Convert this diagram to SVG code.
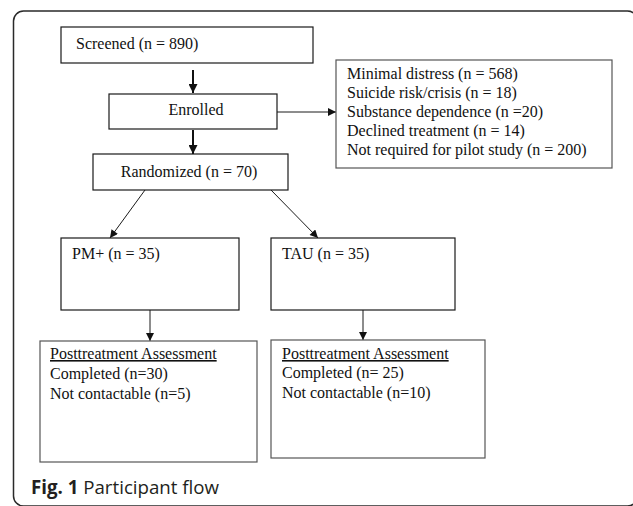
<svg xmlns="http://www.w3.org/2000/svg" width="633" height="506" viewBox="0 0 633 506">
<style>
.box{fill:#fff;stroke:#1a1a1a;stroke-width:1.2}
.gbox{fill:#fff;stroke:#555;stroke-width:1.2}
.t{font-family:"Liberation Serif","Times New Roman",serif;font-size:16px;fill:#111}
.c{text-anchor:middle}
.ln{stroke:#1a1a1a;stroke-width:1;fill:none}
.thk{stroke:#111;stroke-width:2;fill:none}
.cap{font-family:"Open Sans","Noto Sans",sans-serif;font-size:18.7px;fill:#231f20}
</style>
<defs>
<marker id="ah" viewBox="0 0 10 10" refX="10" refY="5" markerWidth="9" markerHeight="8" markerUnits="userSpaceOnUse" orient="auto">
<path d="M0,0 L10,5 L0,10 z" fill="#111"/>
</marker>
<marker id="ahs" viewBox="0 0 10 10" refX="10" refY="5" markerWidth="9" markerHeight="9" markerUnits="userSpaceOnUse" orient="auto">
<path d="M0,0 L10,5 L0,10 z" fill="#111"/>
</marker>
</defs>
<rect x="0" y="0" width="633" height="506" fill="#fff"/>
<rect id="frame" x="13.5" y="11" width="624" height="495" rx="10" ry="10" fill="none" stroke="#2a2a2a" stroke-width="1.5"/>
<g id="connectors">
<line class="thk" x1="193" y1="70" x2="193" y2="93" marker-end="url(#ahs)"/>
<line class="thk" x1="193" y1="130" x2="193" y2="154" marker-end="url(#ahs)"/>
<line class="ln" x1="277" y1="112" x2="336" y2="112" stroke="#666" marker-end="url(#ah)"/>
<line class="ln" x1="145" y1="190" x2="110" y2="238" marker-end="url(#ah)"/>
<line class="ln" x1="271" y1="190" x2="318" y2="238" marker-end="url(#ah)"/>
<line class="ln" x1="150" y1="310" x2="150" y2="341" marker-end="url(#ah)"/>
<line class="ln" x1="363" y1="310" x2="363" y2="340" stroke="#666" marker-end="url(#ah)"/>
</g>
<g id="screened">
<rect class="box" x="61" y="27" width="252" height="36"/>
<text class="t" x="76" y="49">Screened (n = 890)</text>
</g>
<g id="enrolled">
<rect class="box" x="109" y="94" width="168" height="35"/>
<text class="t c" x="196" y="115">Enrolled</text>
</g>
<g id="excluded">
<rect class="gbox" x="336" y="60" width="276" height="108"/>
<text class="t" x="347" y="79">Minimal distress (n = 568)</text>
<text class="t" x="347" y="98">Suicide risk/crisis (n = 18)</text>
<text class="t" x="347" y="117">Substance dependence (n =20)</text>
<text class="t" x="347" y="136">Declined treatment (n = 14)</text>
<text class="t" x="347" y="155">Not required for pilot study (n = 200)</text>
</g>
<g id="randomized">
<rect class="box" x="93" y="154" width="195" height="36"/>
<text class="t c" x="189" y="177">Randomized (n = 70)</text>
</g>
<g id="pm">
<rect class="box" x="61" y="238" width="178" height="72"/>
<text class="t" x="72" y="259">PM+ (n = 35)</text>
</g>
<g id="tau">
<rect class="box" x="271" y="238" width="184" height="72"/>
<text class="t" x="282" y="259">TAU (n = 35)</text>
</g>
<g id="post-pm">
<rect class="gbox" x="40" y="341" width="217" height="121"/>
<text class="t" x="50" y="359" text-decoration="underline">Posttreatment Assessment</text>
<text class="t" x="50" y="379">Completed (n=30)</text>
<text class="t" x="50" y="399">Not contactable (n=5)</text>
</g>
<g id="post-tau">
<rect class="gbox" x="271" y="340" width="214" height="118"/>
<text class="t" x="282" y="359" text-decoration="underline">Posttreatment Assessment</text>
<text class="t" x="282" y="378">Completed (n= 25)</text>
<text class="t" x="282" y="398">Not contactable (n=10)</text>
</g>
<text class="cap" x="31" y="494"><tspan font-weight="bold">Fig. 1</tspan> Participant flow</text>
</svg>
